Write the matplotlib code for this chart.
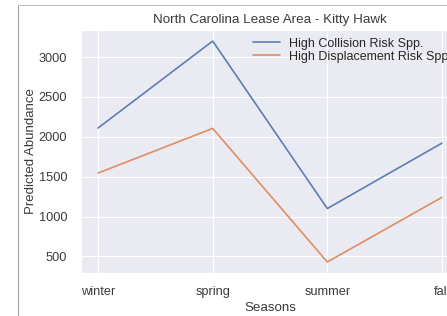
#!/usr/bin/env python3
"""Kitty Hawk lease area: predicted abundance by season."""

import matplotlib
matplotlib.use("Agg")
import matplotlib.pyplot as plt
from matplotlib.lines import Line2D
import seaborn as sns

SEASONS = ["winter", "spring", "summer", "fall"]
COLLISION = [2110, 3200, 1100, 1920]
DISPLACEMENT = [1545, 2105, 430, 1240]

BLUE = "#4C72B0"
ORANGE = "#DD8452"
TEXT = "#3a3a3a"

sns.set_style("darkgrid")
plt.rcParams["font.family"] = ["Liberation Sans", "DejaVu Sans"]

fig = plt.figure(figsize=(4.47, 3.16), dpi=100)
ax = fig.add_axes([0.181, 0.136, 0.846, 0.769])

ax.plot(SEASONS, COLLISION, color=BLUE, linewidth=1.2, alpha=0.9,
        label="High Collision Risk Spp.")
ax.plot(SEASONS, DISPLACEMENT, color=ORANGE, linewidth=1.2, alpha=0.9,
        label="High Displacement Risk Spp.")

ax.set_title("North Carolina Lease Area - Kitty Hawk", fontsize=9.6, color=TEXT, pad=5)
ax.set_xlabel("Seasons", fontsize=9.6, color=TEXT, labelpad=3)
ax.set_ylabel("Predicted Abundance", fontsize=9.5, color=TEXT, labelpad=1)
ax.tick_params(axis="both", labelsize=9.2, labelcolor=TEXT)
ax.tick_params(axis="x", pad=5.5)
ax.tick_params(axis="y", pad=6.5)
# legend runs past the right edge, as in the cropped original
ax.legend(loc="upper right", frameon=False, fontsize=9, handlelength=2.2,
          handletextpad=0.7, borderaxespad=0.2, labelspacing=0.1)

# screenshot frame around the figure
fig.add_artist(Line2D([18 / 447, 18 / 447], [0, 1 - 5 / 316], color="#a0a0a0", lw=0.8))
fig.add_artist(Line2D([18 / 447, 1], [1 - 5 / 316, 1 - 5 / 316], color="#c0c0c0", lw=0.8))

fig.savefig("out.png", dpi=100)
